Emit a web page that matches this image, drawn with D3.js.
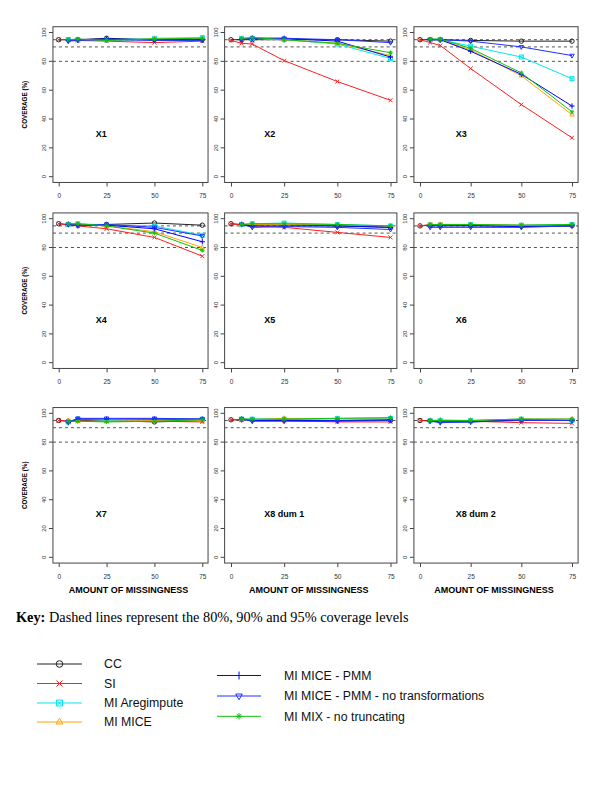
<!DOCTYPE html>
<html><head><meta charset="utf-8">
<script src="https://cdn.jsdelivr.net/npm/d3@7"></script>
<style>body{margin:0;background:#fff}svg{display:block}</style>
</head><body><svg id="c" width="600" height="794"></svg>
<script>
// ---------- DATA ----------
const missingness = [0, 5, 10, 25, 50, 75];
const xTicks = [0, 25, 50, 75];
const yTicks = [0, 20, 40, 60, 80, 100];
const refLevels = [80, 90, 95];
const variables = ["X1","X2","X3","X4","X5","X6","X7","X8 dum 1","X8 dum 2"];
const methods = ["CC","SI","MI Aregimpute","MI MICE","MI MICE - PMM","MI MICE - PMM - no transformations","MI MIX - no truncating"];

const covCC = [
  [95,95,95,96,95,95],[95,95,95,95,95,94],[95,95,95,94.5,94,94],
  [96.5,96,96,96,97,95.5],[96.5,96,96,96,95,94],[95,95.5,95.5,95.5,95,95.5],
  [95,94.5,95,95,94,95],[95.5,95.5,95.5,95.5,95,95],[95,95,95,95,95,95]];
const covSI = [
  [95,95,94.5,94,93,94],[94.5,92.5,92,80.5,66,53],[95,93,91,75,50,27],
  [96.5,95.5,95,93,87,74],[96.5,95.5,95,94,90.5,87],[95,96,96,96,95,95],
  [95,94.5,94.5,94.5,94.5,94],[95.5,95.5,95.5,95,94,94],[95,94.5,94.5,94.5,93.5,93]];
const covAreg = [
  [null,95,95,95,96,96.5],[null,96,96,95,92,82],[null,95,95,90.5,83,68],
  [null,96,96.5,95.5,95,88.5],[null,96,96.5,97,96,95],[null,95.5,95.5,96,95.5,96],
  [null,94,96,95,95.5,96],[null,96,96,96,96.5,96.5],[null,95,95,95,96,95]];
const covMICE = [
  [null,95,95,95,95.5,95.5],[null,95.5,96,95,92.5,84],[null,95,95,88,70,43],
  [null,96,96,95,91,80],[null,96,96,96,95.5,95],[null,95.5,96,96,95.5,95.5],
  [null,95,94.5,94.5,95,95],[null,96,95.5,96.5,96,96],[null,95,95.5,95,96,96]];
const covPMM = [
  [null,94.5,95,95.5,95,95],[null,95,96,96,94,83],[null,95,95,87,71,49],
  [null,96,95.5,95.5,93,84],[null,96,95,95,95,94],[null,95,95,95,94.5,95],
  [null,93.5,96,96,96,96],[null,96,95,95,95,95.5],[null,94.5,94,94,95.5,95]];
const covPMMnt = [
  [null,94,94.5,95,94.5,94.5],[null,95,96,96,95,93],[null,95,95,94,90,84],
  [null,96,95,96,94,88],[null,96,94,94.5,94,92.5],[null,94,94,94,94,95],
  [null,94,96.5,96.5,96.5,96],[null,96,94.5,94.5,94.5,95],[null,94.5,93.5,94,95,95]];
const covMIX = [
  [null,95,95.5,94.5,95.5,96],[null,96,96.5,95,92.5,86],[null,95.5,95.5,89,72,45],
  [null,96.5,96.5,95,90,78],[null,96,96.5,96.5,96,95],[null,96,96,96,95.5,96],
  [null,94.5,94.5,94,94.5,95.5],[null,96,96,96,96.5,97],[null,95,95,95,96,96]];

const seriesValues = [covCC, covSI, covAreg, covMICE, covPMM, covPMMnt, covMIX];

// ---------- STYLE / LAYOUT ----------
const colors = ["#222222","#ff2020","#00e8f0","#ffa500","#0000ff","#2030ff","#10c010"];
const shapes = ["circle","x","sqx","tri","plus","tridown","star"];
const colX = [[58.7,202.3],[231,390.5],[420,572]];
const rowY = [[176.7,32.5],[362.7,218.7],[557.3,413.3]];
const labelLeft = [95.7, 264.3, 455.7];

const svg = d3.select("#c");
svg.append("rect").attr("width",600).attr("height",794).attr("fill","#fff");

function markerPath(type, r){
  const p = d3.path();
  const h = r*0.9;
  switch(type){
    case "circle": p.arc(0,0,r,0,2*Math.PI); break;
    case "x": p.moveTo(-h,-h);p.lineTo(h,h);p.moveTo(-h,h);p.lineTo(h,-h); break;
    case "sqx": p.rect(-h,-h,2*h,2*h);p.moveTo(-h,-h);p.lineTo(h,h);p.moveTo(-h,h);p.lineTo(h,-h); break;
    case "tri": p.moveTo(0,-r*1.15);p.lineTo(r,r*0.6);p.lineTo(-r,r*0.6);p.closePath(); break;
    case "tridown": p.moveTo(0,r*1.15);p.lineTo(r,-r*0.6);p.lineTo(-r,-r*0.6);p.closePath(); break;
    case "plus": p.moveTo(-r*1.2,0);p.lineTo(r*1.2,0);p.moveTo(0,-r*1.2);p.lineTo(0,r*1.2); break;
    case "star": p.moveTo(-r,0);p.lineTo(r,0);p.moveTo(0,-r);p.lineTo(0,r);
      p.moveTo(-h*0.75,-h*0.75);p.lineTo(h*0.75,h*0.75);p.moveTo(-h*0.75,h*0.75);p.lineTo(h*0.75,-h*0.75); break;
  }
  return p.toString();
}

variables.forEach((name, i) => {
  const col = i % 3, row = Math.floor(i / 3);
  const x = d3.scaleLinear().domain([0,75]).range(colX[col]);
  const y = d3.scaleLinear().domain([0,100]).range(rowY[row]);
  const g = svg.append("g");
  const bx0 = x(-3), bx1 = x(78), by0 = y(104), by1 = y(-4);

  // reference dashed lines
  refLevels.forEach(v => {
    g.append("line").attr("x1",bx0).attr("x2",bx1).attr("y1",y(v)).attr("y2",y(v))
      .attr("stroke","#555").attr("stroke-width",1).attr("stroke-dasharray","3,3");
  });

  // series
  const line = d3.line().defined(d => d[1] != null).x(d => x(d[0])).y(d => y(d[1]));
  seriesValues.forEach((arr, s) => {
    const pts = missingness.map((m, k) => [m, arr[i][k]]);
    g.append("path").attr("d", line(pts)).attr("fill","none")
      .attr("stroke", colors[s]).attr("stroke-width", 1);
    pts.filter(d => d[1] != null).forEach(d => {
      g.append("path").attr("d", markerPath(shapes[s], 2.2))
        .attr("transform", `translate(${x(d[0])},${y(d[1])})`)
        .attr("fill","none").attr("stroke", colors[s]).attr("stroke-width", 1);
    });
  });

  // box
  g.append("rect").attr("x",bx0).attr("y",by0).attr("width",bx1-bx0).attr("height",by1-by0)
    .attr("fill","none").attr("stroke","#444").attr("stroke-width",1);

  // axes
  const yAxis = d3.axisLeft(y).tickValues(yTicks).tickSize(4).tickPadding(2);
  const ya = g.append("g").attr("transform",`translate(${bx0},0)`).call(yAxis);
  ya.select(".domain").remove();
  ya.selectAll("line").attr("stroke","#444");
  ya.selectAll("text").attr("transform", d => `rotate(-90, -9, ${y(d)})`)
    .attr("x", -9).attr("y", y).attr("dy","0.35em")
    .attr("text-anchor","middle").attr("font-size","6px").attr("fill","#333")
    .attr("font-family","Liberation Sans, Arial, sans-serif");
  ya.selectAll(".tick").attr("transform", null);
  ya.selectAll(".tick line").attr("y1", d => y(d)).attr("y2", d => y(d));

  const xAxis = d3.axisBottom(x).tickValues(xTicks).tickSize(4).tickPadding(7);
  const xa = g.append("g").attr("transform",`translate(0,${by1})`).call(xAxis);
  xa.select(".domain").remove();
  xa.selectAll("line").attr("stroke","#444");
  xa.selectAll("text").attr("font-size","6.5px").attr("fill","#333")
    .attr("font-family","Liberation Sans, Arial, sans-serif");

  // panel label
  g.append("text").attr("x", labelLeft[col]).attr("y", y(30)).attr("dy","0.35em")
    .attr("font-family","Liberation Sans, Arial, sans-serif").attr("font-weight","bold")
    .attr("font-size","9px").text(name);

  if (col === 0) {
    const cy = (by0 + by1) / 2;
    g.append("text").attr("transform",`translate(25,${cy}) rotate(-90)`)
      .attr("text-anchor","middle").attr("dy","0.35em")
      .attr("font-family","Liberation Sans, Arial, sans-serif").attr("font-weight","bold")
      .attr("font-size","6.3px").text("COVERAGE (%)");
  }
  if (row === 2) {
    g.append("text").attr("x",(bx0+bx1)/2 - 2).attr("y", 590.3).attr("dy","0.35em")
      .attr("text-anchor","middle")
      .attr("font-family","Liberation Sans, Arial, sans-serif").attr("font-weight","bold")
      .attr("font-size","9px").text("AMOUNT OF MISSINGNESS");
  }
});

// key text
const key = svg.append("text").attr("x",16).attr("y",622)
  .attr("font-family","Liberation Serif, Times New Roman, serif").attr("font-size","14.3px");
key.append("tspan").attr("font-weight","bold").text("Key:");
key.append("tspan").text(" Dashed lines represent the 80%, 90% and 95% coverage levels");

// legend
const legPos = [
  [37,82,104,664],[37,82,104,683.5],[37,82,104,703],[37,82,104,722],
  [217,261,284,675.5],[217,261,284,696],[217,261,284,716.3]];
methods.forEach((m, s) => {
  const [lx0, lx1, tx, ly] = legPos[s];
  svg.append("line").attr("x1",lx0).attr("x2",lx1).attr("y1",ly).attr("y2",ly)
    .attr("stroke",colors[s]).attr("stroke-width",1);
  svg.append("path").attr("d", markerPath(shapes[s], 3.3))
    .attr("transform",`translate(${(lx0+lx1)/2},${ly})`)
    .attr("fill","none").attr("stroke",colors[s]).attr("stroke-width",1);
  svg.append("text").attr("x",tx).attr("y",ly).attr("dy","0.35em")
    .attr("font-family","Liberation Sans, Arial, sans-serif").attr("font-size","12.3px")
    .attr("fill","#111").text(m);
});
</script></body></html>
